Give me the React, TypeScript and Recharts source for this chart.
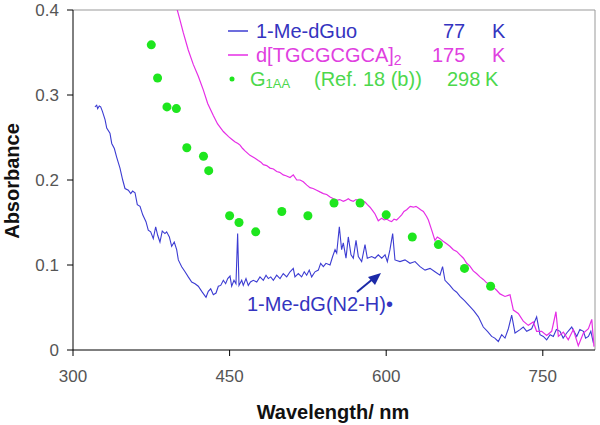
import React from 'react';
import { ComposedChart, Line, Scatter, XAxis, YAxis, ReferenceLine } from 'recharts';

// wavelength (nm), absorbance
const meDGuo77K: [number, number][] = [
  [321, 0.286], [322.7, 0.288], [323.6, 0.284], [325.2, 0.287], [326.5, 0.286], [328.1, 0.281],
  [330.7, 0.271], [332.3, 0.261], [335.4, 0.255], [337.1, 0.243], [339.6, 0.237], [341.8, 0.227],
  [345, 0.214], [347.6, 0.2], [349.8, 0.19], [353, 0.188], [355.3, 0.184], [357.1, 0.187],
  [359.4, 0.185], [361.6, 0.171], [364.2, 0.169], [366.8, 0.159], [369.9, 0.151], [372.1, 0.141],
  [374.4, 0.139], [376.9, 0.131], [379.2, 0.145], [381.1, 0.135], [383.3, 0.127], [385.5, 0.14],
  [388.1, 0.137], [389.7, 0.139], [392.3, 0.133], [394.5, 0.122], [397, 0.127], [399.3, 0.118],
  [400.9, 0.106], [404.1, 0.098], [407.3, 0.092], [410.4, 0.086], [413.7, 0.08], [416.9, 0.078],
  [420, 0.075], [423.3, 0.069], [427.4, 0.062], [429.6, 0.069], [431.9, 0.072], [434.4, 0.065],
  [437, 0.067], [439.2, 0.075], [441.5, 0.076], [444, 0.082], [446.2, 0.078], [448.2, 0.084],
  [450.4, 0.087], [452, 0.075], [454.2, 0.082], [456.1, 0.078], [457.7, 0.137], [459, 0.076],
  [461.6, 0.082], [463.1, 0.076], [465.7, 0.084], [467.9, 0.076], [470, 0.08], [472.7, 0.082],
  [476, 0.08], [479.1, 0.086], [482.3, 0.082], [484.9, 0.088], [487.1, 0.084], [489.4, 0.086],
  [491.9, 0.082], [495.1, 0.088], [498.3, 0.084], [501.4, 0.09], [504.7, 0.086], [507.9, 0.092],
  [511, 0.096], [512.6, 0.086], [515.8, 0.09], [519, 0.086], [521.5, 0.092], [523.8, 0.088],
  [526.3, 0.094], [528.6, 0.086], [531.8, 0.092], [535, 0.094], [537.2, 0.102], [539.8, 0.098],
  [542.3, 0.102], [546.2, 0.1], [548.7, 0.11], [551, 0.118], [552.6, 0.114], [555.1, 0.145],
  [557.3, 0.118], [558.9, 0.126], [561.5, 0.108], [563.7, 0.133], [566.3, 0.112], [568.5, 0.108],
  [571.1, 0.129], [573.3, 0.11], [576.5, 0.104], [579.7, 0.124], [581.9, 0.108], [586.1, 0.11],
  [589.3, 0.108], [592.4, 0.112], [595.7, 0.108], [598.9, 0.112], [601.1, 0.104], [603.6, 0.118],
  [606.2, 0.137], [608.4, 0.106], [613.2, 0.104], [618, 0.106], [622.8, 0.102], [627.6, 0.104],
  [632.4, 0.098], [637.2, 0.094], [642, 0.096], [646.7, 0.092], [651.5, 0.088], [654, 0.098],
  [656.3, 0.082], [661, 0.076], [664.3, 0.071], [667.5, 0.068], [670.7, 0.063], [675, 0.058],
  [680.3, 0.051], [684, 0.046], [688.3, 0.039], [693, 0.027], [697, 0.022], [701, 0.016],
  [704, 0.014], [707.4, 0.01], [710.6, 0.018], [713.8, 0.014], [717, 0.025], [720.2, 0.041],
  [723.4, 0.02], [728.2, 0.024], [731.3, 0.027], [734.6, 0.022], [739.3, 0.025], [744.1, 0.039],
  [747.3, 0.018], [750.5, 0.016], [753.7, 0.012], [757, 0.018], [760.1, 0.016], [763, 0.024],
  [766.5, 0.022], [769.5, 0.014], [772.9, 0.02], [777.7, 0.027], [782.5, 0.016], [785.5, 0.024],
  [788.9, 0.022], [791, 0.014], [793.7, 0.016], [796, 0.022], [798.5, 0.008],
];

const tgcgcgca175K: [number, number][] = [
  [399, 0.404], [402.5, 0.388], [405.7, 0.373], [410.4, 0.353], [415.2, 0.336], [420, 0.322],
  [424.8, 0.306], [429, 0.29], [434.4, 0.276], [438.5, 0.266], [444, 0.257], [449, 0.251],
  [452, 0.248], [455, 0.245], [458, 0.243], [460, 0.241], [462.5, 0.237], [465, 0.234],
  [469.5, 0.229], [474, 0.226], [477.5, 0.223], [480, 0.221], [482.3, 0.218], [485.5, 0.217],
  [488.7, 0.214], [492, 0.213], [495.1, 0.21], [498, 0.209], [501.4, 0.206], [504, 0.205],
  [507.9, 0.203], [511, 0.206], [514.3, 0.2], [517.5, 0.2], [520.6, 0.198], [524, 0.194],
  [527, 0.191], [530, 0.19], [533.4, 0.188], [536.5, 0.186], [539.8, 0.184], [543, 0.183],
  [546.2, 0.18], [549.5, 0.178], [552.6, 0.176], [555.5, 0.177], [558.9, 0.175], [561, 0.176],
  [563.7, 0.178], [566, 0.176], [568.5, 0.175], [571, 0.177], [573.3, 0.176], [576.5, 0.176],
  [579.7, 0.174], [582, 0.171], [584.5, 0.168], [587, 0.164], [589.3, 0.16], [592.4, 0.152],
  [595.7, 0.155], [598, 0.153], [600.4, 0.154], [603, 0.152], [605.2, 0.151], [607.5, 0.154],
  [610, 0.153], [612.5, 0.156], [614.8, 0.159], [617, 0.163], [619.6, 0.165], [623, 0.169],
  [626, 0.168], [628.5, 0.169], [630.8, 0.167], [633, 0.165], [635.6, 0.163], [638.7, 0.157],
  [640.4, 0.153], [643.6, 0.141], [646.7, 0.129], [649, 0.133], [651.5, 0.131], [654.5, 0.128],
  [657.9, 0.125], [661, 0.122], [664.3, 0.118], [667.5, 0.116], [670.7, 0.112], [674, 0.108],
  [677.1, 0.102], [680, 0.099], [683.4, 0.093], [686.5, 0.09], [689.8, 0.086], [693, 0.083],
  [696.2, 0.079], [699.5, 0.077], [702.6, 0.074], [706, 0.07], [709, 0.066], [713.8, 0.063],
  [718.6, 0.065], [721.8, 0.047], [726.5, 0.043], [731.3, 0.034], [736.1, 0.029], [740.9, 0.033],
  [744.1, 0.022], [748.9, 0.022], [753.7, 0.017], [758.5, 0.022], [762.6, 0.045], [764.9, 0.016],
  [769.7, 0.021], [774.4, 0.012], [779.2, 0.024], [784, 0.005], [788.9, 0.02], [793.7, 0.025],
  [796.9, 0.036], [799, 0.004],
];

const g1aa298K: [number, number][] = [
  [375, 0.359], [381, 0.32], [390, 0.286], [399, 0.284], [409, 0.238], [425, 0.228], [430, 0.211],
  [450, 0.158], [459, 0.15], [475, 0.139], [500, 0.163], [525, 0.158], [550, 0.173], [575, 0.173],
  [600, 0.159], [625, 0.133], [650, 0.124], [675, 0.096], [700, 0.075],
];

const xTicks = [300, 450, 600, 750];
const yTicks = [0, 0.1, 0.2, 0.3, 0.4];

const BLUE = '#3c3cd2';
const MAGENTA = '#e62ee6';
const GREEN = '#1ee61e';
const FONT = '"Liberation Sans", Arial, sans-serif';

const toRows = (pts: [number, number][]) => pts.map(([nm, abs]) => ({ nm, abs }));

export default function App() {
  return (
    <div style={{ position: 'absolute', left: 0, top: 0, width: 600, height: 425, background: '#fff', fontFamily: FONT }}>
      <ComposedChart width={600} height={425} margin={{ top: 10, right: 5, bottom: 45, left: 13 }}>
        <XAxis
          type="number"
          dataKey="nm"
          domain={[300, 800]}
          ticks={xTicks}
          allowDataOverflow
          stroke="#000"
          tickSize={6}
          tickMargin={14}
          height={30}
          tick={{ fill: '#555', fontSize: 17, fontFamily: FONT }}
        />
        <YAxis
          type="number"
          domain={[0, 0.4]}
          ticks={yTicks}
          allowDataOverflow
          stroke="#000"
          width={60}
          tickSize={6}
          tickMargin={8}
          tickFormatter={(v: number) => (v === 0 ? '0' : v.toFixed(1))}
          tick={{ fill: '#555', fontSize: 17, fontFamily: FONT }}
        />
        <ReferenceLine y={0.4} stroke="#999" />
        <ReferenceLine x={800} stroke="#999" />
        <Line data={toRows(meDGuo77K)} dataKey="abs" type="linear" stroke={BLUE} strokeWidth={1.1} dot={false} isAnimationActive={false} />
        <Line data={toRows(tgcgcgca175K)} dataKey="abs" type="linear" stroke={MAGENTA} strokeWidth={1.2} dot={false} isAnimationActive={false} />
        <Scatter data={toRows(g1aa298K)} dataKey="abs" fill={GREEN} shape="circle" isAnimationActive={false} />
      </ComposedChart>

      <svg width={600} height={425} style={{ position: 'absolute', left: 0, top: 0, pointerEvents: 'none' }} fontFamily={FONT}>
        {/* legend */}
        <line x1={228} x2={248} y1={31} y2={31} stroke={BLUE} strokeWidth={1.5} />
        <text x={256} y={31} dominantBaseline="central" fontSize={20} fill="#3434c0">1-Me-dGuo</text>
        <text x={443} y={31} dominantBaseline="central" fontSize={20} fill="#3434c0">77</text>
        <text x={492} y={31} dominantBaseline="central" fontSize={20} fill="#3434c0">K</text>

        <line x1={228} x2={248} y1={55} y2={55} stroke={MAGENTA} strokeWidth={1.5} />
        <text x={256} y={55} dominantBaseline="central" fontSize={20} fill="#e040e0">
          d[TGCGCGCA]<tspan fontSize={14} dy={5}>2</tspan>
        </text>
        <text x={432} y={55} dominantBaseline="central" fontSize={20} fill="#e040e0">175</text>
        <text x={492} y={55} dominantBaseline="central" fontSize={20} fill="#e040e0">K</text>

        <circle cx={232} cy={79} r={2.5} fill={GREEN} />
        <text x={250} y={79} dominantBaseline="central" fontSize={20} fill="#4cd84c">
          G<tspan fontSize={13} dy={4}>1AA</tspan>
        </text>
        <text x={314} y={79} dominantBaseline="central" fontSize={20} fill="#4cd84c">(Ref. 18 (b))</text>
        <text x={447} y={79} dominantBaseline="central" fontSize={20} fill="#4cd84c">298</text>
        <text x={485} y={79} dominantBaseline="central" fontSize={20} fill="#4cd84c">K</text>

        {/* annotation */}
        <text x={247} y={304} dominantBaseline="central" fontSize={20} fill="#3434c0">1-Me-dG(N2-H)•</text>
        <line x1={357} y1={292} x2={374} y2={278} stroke="#1c2aa8" strokeWidth={2} />
        <polygon points="381,273 368,277 375,285" fill="#1c2aa8" />

        {/* axis titles */}
        <text x={333} y={412} textAnchor="middle" dominantBaseline="central" fontSize={20} fontWeight="bold" fill="#111">
          Wavelength/ nm
        </text>
        <text
          x={12}
          y={181}
          textAnchor="middle"
          dominantBaseline="central"
          fontSize={20}
          fontWeight="bold"
          fill="#111"
          transform="rotate(-90 12 181)"
        >
          Absorbance
        </text>
      </svg>
    </div>
  );
}
